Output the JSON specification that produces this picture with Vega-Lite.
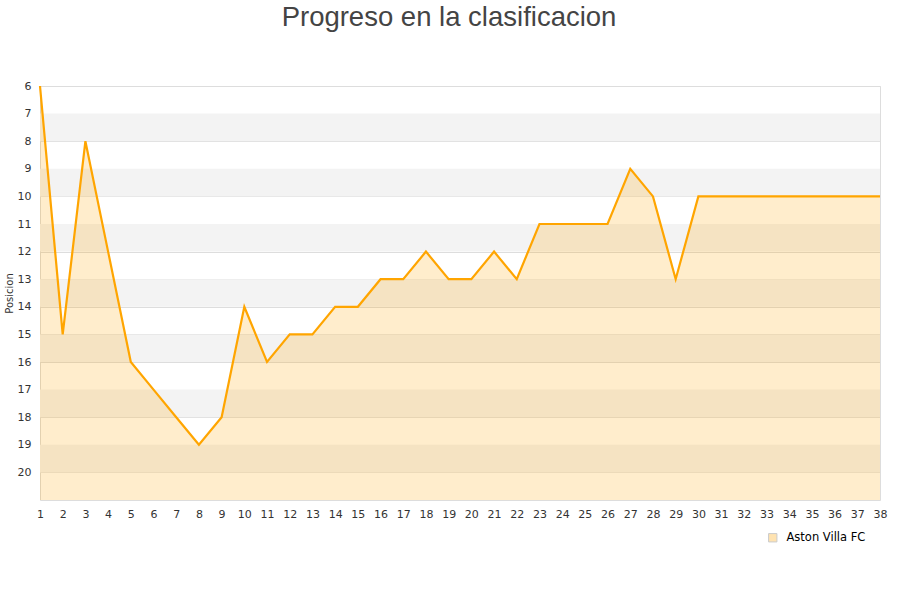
{
  "$schema": "https://vega.github.io/schema/vega-lite/v6.json",
  "autosize": "none",
  "width": 840,
  "height": 414,
  "padding": {"left": 40, "top": 86, "right": 20, "bottom": 100},
  "background": "white",
  "config": {
    "view": {"stroke": "#dddddd", "strokeWidth": 1},
    "font": "DejaVu Sans"
  },
  "title": {
    "text": "Progreso en la clasificacion",
    "font": "Liberation Sans",
    "fontSize": 27.5,
    "fontWeight": "normal",
    "color": "#444444",
    "anchor": "middle",
    "dx": -11,
    "offset": 49
  },
  "datasets": {
    "bandas": [
      {"desde": 7, "hasta": 8},
      {"desde": 9, "hasta": 10},
      {"desde": 11, "hasta": 12},
      {"desde": 13, "hasta": 14},
      {"desde": 15, "hasta": 16},
      {"desde": 17, "hasta": 18},
      {"desde": 19, "hasta": 20}
    ],
    "posiciones": [
      {"jornada": 1, "posicion": 6, "equipo": "Aston Villa FC"},
      {"jornada": 2, "posicion": 15, "equipo": "Aston Villa FC"},
      {"jornada": 3, "posicion": 8, "equipo": "Aston Villa FC"},
      {"jornada": 4, "posicion": 12, "equipo": "Aston Villa FC"},
      {"jornada": 5, "posicion": 16, "equipo": "Aston Villa FC"},
      {"jornada": 6, "posicion": 17, "equipo": "Aston Villa FC"},
      {"jornada": 7, "posicion": 18, "equipo": "Aston Villa FC"},
      {"jornada": 8, "posicion": 19, "equipo": "Aston Villa FC"},
      {"jornada": 9, "posicion": 18, "equipo": "Aston Villa FC"},
      {"jornada": 10, "posicion": 14, "equipo": "Aston Villa FC"},
      {"jornada": 11, "posicion": 16, "equipo": "Aston Villa FC"},
      {"jornada": 12, "posicion": 15, "equipo": "Aston Villa FC"},
      {"jornada": 13, "posicion": 15, "equipo": "Aston Villa FC"},
      {"jornada": 14, "posicion": 14, "equipo": "Aston Villa FC"},
      {"jornada": 15, "posicion": 14, "equipo": "Aston Villa FC"},
      {"jornada": 16, "posicion": 13, "equipo": "Aston Villa FC"},
      {"jornada": 17, "posicion": 13, "equipo": "Aston Villa FC"},
      {"jornada": 18, "posicion": 12, "equipo": "Aston Villa FC"},
      {"jornada": 19, "posicion": 13, "equipo": "Aston Villa FC"},
      {"jornada": 20, "posicion": 13, "equipo": "Aston Villa FC"},
      {"jornada": 21, "posicion": 12, "equipo": "Aston Villa FC"},
      {"jornada": 22, "posicion": 13, "equipo": "Aston Villa FC"},
      {"jornada": 23, "posicion": 11, "equipo": "Aston Villa FC"},
      {"jornada": 24, "posicion": 11, "equipo": "Aston Villa FC"},
      {"jornada": 25, "posicion": 11, "equipo": "Aston Villa FC"},
      {"jornada": 26, "posicion": 11, "equipo": "Aston Villa FC"},
      {"jornada": 27, "posicion": 9, "equipo": "Aston Villa FC"},
      {"jornada": 28, "posicion": 10, "equipo": "Aston Villa FC"},
      {"jornada": 29, "posicion": 13, "equipo": "Aston Villa FC"},
      {"jornada": 30, "posicion": 10, "equipo": "Aston Villa FC"},
      {"jornada": 31, "posicion": 10, "equipo": "Aston Villa FC"},
      {"jornada": 32, "posicion": 10, "equipo": "Aston Villa FC"},
      {"jornada": 33, "posicion": 10, "equipo": "Aston Villa FC"},
      {"jornada": 34, "posicion": 10, "equipo": "Aston Villa FC"},
      {"jornada": 35, "posicion": 10, "equipo": "Aston Villa FC"},
      {"jornada": 36, "posicion": 10, "equipo": "Aston Villa FC"},
      {"jornada": 37, "posicion": 10, "equipo": "Aston Villa FC"},
      {"jornada": 38, "posicion": 10, "equipo": "Aston Villa FC"}
    ]
  },
  "layer": [
    {
      "data": {"name": "bandas"},
      "mark": {"type": "rect", "fill": "#f3f3f3"},
      "encoding": {
        "y": {
          "field": "desde",
          "type": "quantitative",
          "scale": {"domain": [6, 21], "reverse": true, "nice": false, "zero": false},
          "axis": {
            "values": [6, 7, 8, 9, 10, 11, 12, 13, 14, 15, 16, 17, 18, 19, 20],
            "title": "Posicion",
            "titleFont": "DejaVu Sans",
            "titleFontSize": 10,
            "titleFontWeight": "normal",
            "titleColor": "#333333",
            "titleX": -26,
            "titleY": 207,
            "labelFontSize": 11,
            "labelColor": "#333333",
            "labelPadding": 9,
            "labelOverlap": false,
            "ticks": false,
            "domain": false,
            "grid": true,
            "gridColor": "#dddddd",
            "gridWidth": 1
          }
        },
        "y2": {"field": "hasta"}
      }
    },
    {
      "data": {"name": "posiciones"},
      "mark": {"type": "area", "opacity": 0.2},
      "encoding": {
        "x": {
          "field": "jornada",
          "type": "quantitative",
          "scale": {"domain": [1, 38], "nice": false, "zero": false},
          "axis": {
            "values": [1, 2, 3, 4, 5, 6, 7, 8, 9, 10, 11, 12, 13, 14, 15, 16, 17, 18, 19, 20, 21, 22, 23, 24, 25, 26, 27, 28, 29, 30, 31, 32, 33, 34, 35, 36, 37, 38],
            "title": null,
            "labelFontSize": 11,
            "labelColor": "#333333",
            "labelPadding": 8,
            "labelFlush": false,
            "labelOverlap": false,
            "ticks": false,
            "domain": false,
            "grid": false
          }
        },
        "y": {
          "field": "posicion",
          "type": "quantitative",
          "axis": {
            "values": [6, 7, 8, 9, 10, 11, 12, 13, 14, 15, 16, 17, 18, 19, 20],
            "title": "Posicion",
            "titleFont": "DejaVu Sans",
            "titleFontSize": 10,
            "titleFontWeight": "normal",
            "titleColor": "#333333",
            "titleX": -26,
            "titleY": 207,
            "labelFontSize": 11,
            "labelColor": "#333333",
            "labelPadding": 9,
            "labelOverlap": false,
            "ticks": false,
            "domain": false,
            "grid": true,
            "gridColor": "#dddddd",
            "gridWidth": 1
          }
        },
        "y2": {"datum": 21},
        "color": {
          "field": "equipo",
          "type": "nominal",
          "scale": {"range": ["#ffa500"]},
          "legend": {
            "title": null,
            "orient": "none",
            "legendX": 727,
            "legendY": 446,
            "symbolType": "square",
            "symbolSize": 70,
            "symbolOpacity": 0.3,
            "symbolStrokeColor": "#555555",
            "symbolStrokeWidth": 1,
            "labelFont": "DejaVu Sans",
            "labelFontSize": 11.5,
            "labelColor": "#000000",
            "labelOffset": 8
          }
        }
      }
    },
    {
      "data": {"name": "posiciones"},
      "mark": {"type": "line", "color": "#ffa500", "strokeWidth": 2.2},
      "encoding": {
        "x": {
          "field": "jornada",
          "type": "quantitative",
          "axis": {
            "values": [1, 2, 3, 4, 5, 6, 7, 8, 9, 10, 11, 12, 13, 14, 15, 16, 17, 18, 19, 20, 21, 22, 23, 24, 25, 26, 27, 28, 29, 30, 31, 32, 33, 34, 35, 36, 37, 38],
            "title": null,
            "labelFontSize": 11,
            "labelColor": "#333333",
            "labelPadding": 8,
            "labelFlush": false,
            "labelOverlap": false,
            "ticks": false,
            "domain": false,
            "grid": false
          }
        },
        "y": {
          "field": "posicion",
          "type": "quantitative",
          "axis": {
            "values": [6, 7, 8, 9, 10, 11, 12, 13, 14, 15, 16, 17, 18, 19, 20],
            "title": "Posicion",
            "titleFont": "DejaVu Sans",
            "titleFontSize": 10,
            "titleFontWeight": "normal",
            "titleColor": "#333333",
            "titleX": -26,
            "titleY": 207,
            "labelFontSize": 11,
            "labelColor": "#333333",
            "labelPadding": 9,
            "labelOverlap": false,
            "ticks": false,
            "domain": false,
            "grid": true,
            "gridColor": "#dddddd",
            "gridWidth": 1
          }
        }
      }
    }
  ]
}
